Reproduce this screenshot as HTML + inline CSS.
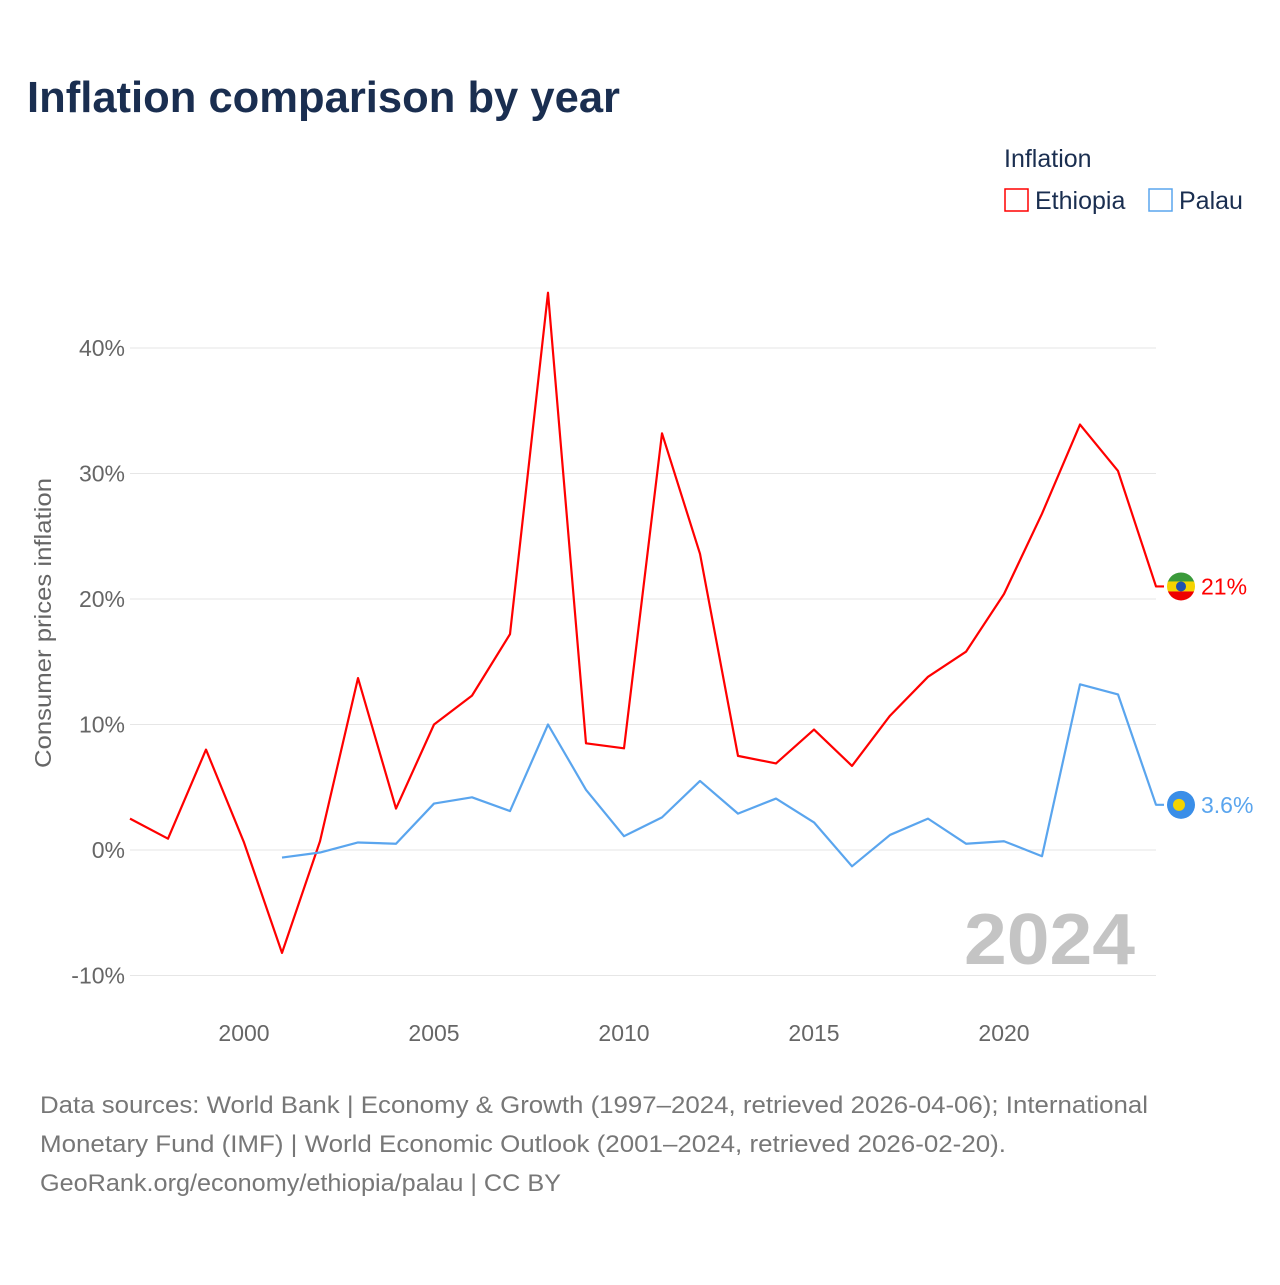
<!DOCTYPE html>
<html><head><meta charset="utf-8"><style>
body{margin:0;background:#fff;font-family:"Liberation Sans",sans-serif;}
svg text{font-family:"Liberation Sans",sans-serif;}
</style></head><body>
<svg id="chart" width="1280" height="1280" xmlns="http://www.w3.org/2000/svg">
<rect width="1280" height="1280" fill="#fff"/>
<text x="27" y="112" font-size="44" font-weight="bold" fill="#1a2e50" textLength="593" lengthAdjust="spacingAndGlyphs">Inflation comparison by year</text>
<text x="1004" y="167" font-size="25" fill="#1a2e50">Inflation</text>
<g><rect x="1005" y="189" width="23" height="22" fill="none" stroke="#f00" stroke-width="1.5"/><text x="1035" y="209" font-size="25" fill="#1a2e50">Ethiopia</text></g>
<g><rect x="1149" y="189" width="23" height="22" fill="none" stroke="#5aa5ee" stroke-width="1.5"/><text x="1179" y="209" font-size="25" fill="#1a2e50">Palau</text></g>
<g id="grid"></g><g id="series"></g>
<text transform="translate(51,623) rotate(-90)" text-anchor="middle" font-size="23" fill="#666" textLength="290" lengthAdjust="spacingAndGlyphs">Consumer prices inflation</text>
<text x="964" y="964" font-size="72" font-weight="bold" fill="#c4c4c4" textLength="171" lengthAdjust="spacingAndGlyphs">2024</text>
<g font-size="24" fill="#777">
<text x="40" y="1113" textLength="1108" lengthAdjust="spacingAndGlyphs">Data sources: World Bank | Economy &amp; Growth (1997–2024, retrieved 2026-04-06); International</text>
<text x="40" y="1152" textLength="966" lengthAdjust="spacingAndGlyphs">Monetary Fund (IMF) | World Economic Outlook (2001–2024, retrieved 2026-02-20).</text>
<text x="40" y="1191" textLength="521" lengthAdjust="spacingAndGlyphs">GeoRank.org/economy/ethiopia/palau | CC BY</text>
</g>
</svg>
<script>
const yTicks=[-10,0,10,20,30,40];
const xTicks=[2000,2005,2010,2015,2020];
const ethYears=[1997,1998,1999,2000,2001,2002,2003,2004,2005,2006,2007,2008,2009,2010,2011,2012,2013,2014,2015,2016,2017,2018,2019,2020,2021,2022,2023,2024];
const ethVals=[2.5,0.9,8.0,0.6,-8.2,0.7,13.7,3.3,10.0,12.3,17.2,44.4,8.5,8.1,33.2,23.6,7.5,6.9,9.6,6.7,10.7,13.8,15.8,20.4,26.8,33.9,30.2,21.0];
const palYears=[2001,2002,2003,2004,2005,2006,2007,2008,2009,2010,2011,2012,2013,2014,2015,2016,2017,2018,2019,2020,2021,2022,2023,2024];
const palVals=[-0.6,-0.2,0.6,0.5,3.7,4.2,3.1,10.0,4.8,1.1,2.6,5.5,2.9,4.1,2.2,-1.3,1.2,2.5,0.5,0.7,-0.5,13.2,12.4,3.6];
const NS="http://www.w3.org/2000/svg";
const x=yr=>130+(yr-1997)*38;
const y=v=>850-v*12.55;
function mk(tag,attrs,parent){const e=document.createElementNS(NS,tag);for(const k in attrs)e.setAttribute(k,attrs[k]);parent.appendChild(e);return e;}
const grid=document.getElementById('grid');
yTicks.forEach(t=>{
 const l=mk('line',{x1:130,x2:1156,y1:y(t),y2:y(t),stroke:'#e6e6e6','stroke-width':1},grid);
 
 
 const tx=mk('text',{x:125,y:y(t)+8,'text-anchor':'end','font-size':23,fill:'#666'},grid);
 tx.textContent=t+'%';
 
 
});
xTicks.forEach(t=>{
 const tx=mk('text',{x:x(t),y:1041,'text-anchor':'middle','font-size':23,fill:'#666'},grid);
 tx.textContent=t;
 
 
});
const s=document.getElementById('series');
function line(years,vals,color,name,label,flag){
 let pts=years.map((yr,i)=>x(yr)+','+y(vals[i]));
 const last=vals[vals.length-1];
 pts.push((x(years[years.length-1])+8)+','+y(last));
 const p=mk('polyline',{points:pts.join(' '),fill:'none',stroke:color,'stroke-width':2.2,'stroke-linejoin':'round'},s);
 
 
 const cy=y(last), cx=1181;
 const g=mk('g',{},s);
 
 
 if(flag==='eth'){
  mk('clipPath',{id:'cf'},g);
  const cp=g.lastChild;mk('circle',{cx:cx,cy:cy,r:14},cp);
  const gg=mk('g',{'clip-path':'url(#cf)'},g);
  mk('rect',{x:cx-14,y:cy-14,width:28,height:10,fill:'#3a9a3a'},gg);
  mk('rect',{x:cx-14,y:cy-5,width:28,height:10,fill:'#f5d300'},gg);
  mk('rect',{x:cx-14,y:cy+5,width:28,height:10,fill:'#e00'},gg);
  mk('circle',{cx:cx,cy:cy,r:5,fill:'#1e50b0'},gg);
 } else {
  mk('circle',{cx:cx,cy:cy,r:14,fill:'#3a8ee8'},g);
  mk('circle',{cx:cx-2,cy:cy,r:6,fill:'#f5d300'},g);
 }
 const t=mk('text',{x:1201,y:cy+8,'font-size':23,fill:color},s);
 t.textContent=label;
 
 
}
line(ethYears,ethVals,'#f00','ethiopia',Math.round(ethVals[ethVals.length-1])+'%','eth');
line(palYears,palVals,'#5aa5ee','palau',palVals[palVals.length-1].toFixed(1)+'%','pal');
</script>
</body></html>
